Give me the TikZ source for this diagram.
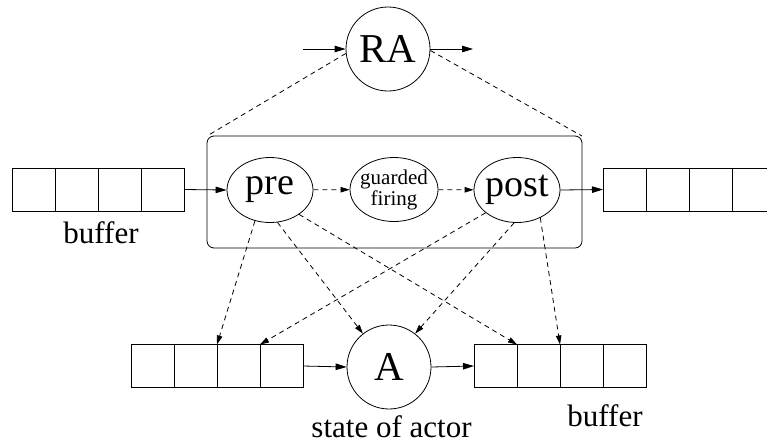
\documentclass[tikz,border=0pt]{standalone}
\usepackage{fontspec}
\setmainfont{Liberation Serif}
\usetikzlibrary{shapes.geometric,arrows.meta}

\begin{document}
\begin{tikzpicture}[x=1pt,y=-1pt,
  line width=0.8pt,
  cell/.style={draw, minimum width=43pt, minimum height=43pt, inner sep=0pt, outer sep=0pt},
  oval/.style={draw, ellipse, inner sep=0pt, inner xsep=-3pt, minimum width=86pt, minimum height=65pt,
               font=\fontsize{38}{38}\selectfont},
  actor/.style={draw, circle, inner sep=0pt, minimum size=84pt, font=\fontsize{41}{41}\selectfont},
  flow/.style={-{Triangle[length=11pt,width=6.5pt]}},
  ctrl/.style={dash pattern=on 5pt off 4pt},
  ctrlarrow/.style={ctrl, -{Triangle[length=9pt,width=5.5pt]}},
  caption/.style={font=\fontsize{31}{31}\selectfont, anchor=base, inner sep=0pt}
]
\useasboundingbox (0,0) rectangle (767,445);

% refined actor on top
\node[actor] (RA) at (388,49) {RA};
\coordinate (rain) at (303,49);
\coordinate (raout) at (473,49);
\draw[flow] (rain) -- (RA.west);
\draw[flow] (RA.east) -- (raout);

% expansion frame
\node[draw, rounded corners=7pt, minimum width=375pt, minimum height=112pt,
      inner sep=0pt, outer sep=0pt] (frame) at (394.5,192) {};
\draw[ctrl] (RA.186) -- (frame.north west);
\draw[ctrl] (RA.-2) -- (frame.north east);

% phases inside the frame
\node[oval] (pre) at (270,190) {pre};
\node[oval, inner xsep=-4pt, minimum width=88pt, minimum height=64pt, align=center,
      font=\fontsize{21}{21}\selectfont] (guard) at (394,189.5) {guarded\\firing};
\node[oval] (post) at (517,190) {post};
\draw[ctrlarrow] (pre) -- (guard);
\draw[ctrlarrow] (guard) -- (post);

% input buffer (upper left)
\foreach \i/\x in {1/33.5,2/76.5,3/119.5,4/162.5}
  \node[cell] (lt\i) at (\x,189.5) {};
\node[caption] (lbuf) at (101,243) {buffer};

% output buffer (upper right)
\foreach \i/\x in {1/624.5,2/667.5,3/710.5,4/753.5}
  \node[cell] (rt\i) at (\x,189.5) {};

\draw[flow] (lt4.east) -- (pre.west);
\draw[flow] (post.east) -- (rt1.west);

% actor and its buffers (bottom)
\node[actor, font=\fontsize{41}{41}\selectfont] (A) at (389,367) {A};
\foreach \i/\x in {1/152.5,2/195.5,3/238.5,4/281.5}
  \node[cell] (lb\i) at (\x,366) {};
\foreach \i/\x in {1/495.5,2/538.5,3/581.5,4/624.5}
  \node[cell] (rb\i) at (\x,366) {};
\draw[flow] (lb4.east) -- (A.west);
\draw[flow] (A.east) -- (rb1.west);

\node[caption] (state) at (391.5,437) {state of actor};
\node[caption] (rbuf) at (605,426) {buffer};

% control links from pre and post
\draw[ctrlarrow] (pre.-116) -- (lb3.north west);
\draw[ctrlarrow] (pre.-77) -- (A.128);
\draw[ctrlarrow] (pre.-40) -- (rb2.north west);
\draw[ctrlarrow] (post.-144) -- (lb4.north west);
\draw[ctrlarrow] (post.-95) -- (A.52);
\draw[ctrlarrow] (post.-50) -- (rb3.north west);
\end{tikzpicture}
\end{document}
